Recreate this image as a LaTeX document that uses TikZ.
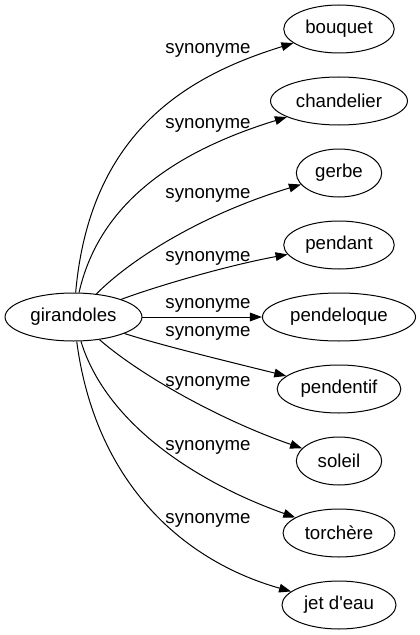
\documentclass[tikz,border=0pt]{standalone}
\usepackage{fontspec}
\setmainfont{Liberation Sans}
\usetikzlibrary{shapes.geometric,arrows.meta}
\begin{document}
\begin{tikzpicture}[x=0.75pt,y=-0.75pt,
  every node/.style={font=\fontsize{14pt}{16pt}\selectfont},
  term/.style={draw, ellipse, line width=0.75pt, inner xsep=4pt, inner ysep=2pt,
               minimum width=64pt, minimum height=36pt},
  rel/.style={inner sep=0pt},
  syn/.style={draw, line width=0.75pt, -{Triangle[length=9pt,width=6.5pt]}}]
\useasboundingbox (0,0) rectangle (420,635);
\node[term] (g) at (73.5,317) {girandoles};
\node[term] (n1) at (339,29) {bouquet};
\node[term] (n2) at (339,101) {chandelier};
\node[term] (n3) at (339,173) {gerbe};
\node[term] (n4) at (339,245) {pendant};
\node[term] (n5) at (339,317) {pendeloque};
\node[term] (n6) at (339,389) {pendentif};
\node[term] (n7) at (339,461) {soleil};
\node[term] (n8) at (339,533) {torchère};
\node[term] (n9) at (339,605) {jet d\textquotesingle eau};
\node[rel] (l1) at (208,50) {synonyme};
\node[rel] (l2) at (208,125) {synonyme};
\node[rel] (l3) at (208,195) {synonyme};
\node[rel] (l4) at (208,258) {synonyme};
\node[rel] (l5) at (208,305) {synonyme};
\node[rel] (l6) at (208,333) {synonyme};
\node[rel] (l7) at (208,383) {synonyme};
\node[rel] (l8) at (208,447) {synonyme};
\node[rel] (l9) at (208,520) {synonyme};
\draw[syn] (g) .. controls (90,130) and (190,75) .. (n1);
\draw[syn] (g) .. controls (100,200) and (180,150) .. (n2);
\draw[syn] (g) .. controls (130,260) and (200,215) .. (n3);
\draw[syn] (g) .. controls (160,285) and (230,265) .. (n4);
\draw[syn] (g) -- (n5);
\draw[syn] (g) .. controls (160,345) and (230,362) .. (n6);
\draw[syn] (g) .. controls (140,375) and (220,420) .. (n7);
\draw[syn] (g) .. controls (105,420) and (190,480) .. (n8);
\draw[syn] (g) .. controls (95,480) and (180,560) .. (n9);
\end{tikzpicture}
\end{document}
